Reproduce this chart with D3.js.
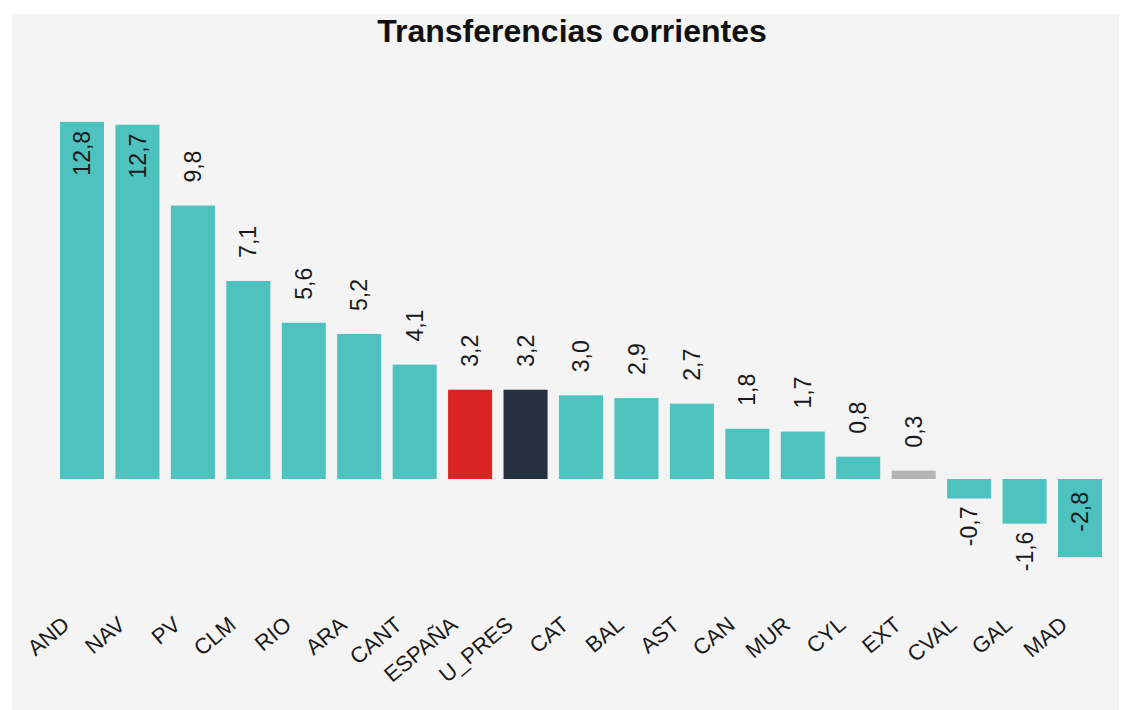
<!DOCTYPE html>
<html>
<head>
<meta charset="utf-8">
<script src="https://cdn.jsdelivr.net/npm/d3@7/dist/d3.min.js"></script>
<style>
  html, body { margin: 0; padding: 0; background: #ffffff; }
  svg { display: block; font-family: "Liberation Sans", Arial, sans-serif; }
</style>
</head>
<body>
<svg id="chart" width="1121" height="710"></svg>
<script>
// Regions, ordered by value
const categories = ["AND", "NAV", "PV", "CLM", "RIO", "ARA", "CANT", "ESPAÑA", "U_PRES",
                    "CAT", "BAL", "AST", "CAN", "MUR", "CYL", "EXT", "CVAL", "GAL", "MAD"];
const values = [12.8, 12.7, 9.8, 7.1, 5.6, 5.2, 4.1, 3.2, 3.2,
                3.0, 2.9, 2.7, 1.8, 1.7, 0.8, 0.3, -0.7, -1.6, -2.8];
// Highlighted bars: national total, budget unit and one muted region
const highlight = { "ESPAÑA": "#da2323", "U_PRES": "#253040", "EXT": "#b4b4b4" };
const baseColor = "#4ec2bf";
const title = "Transferencias corrientes";

const svg = d3.select("#chart");

// Panel background
svg.append("rect")
  .attr("x", 12).attr("y", 14)
  .attr("width", 1107).attr("height", 696)
  .attr("fill", "#f4f4f4");

const x = d3.scaleBand()
  .domain(categories)
  .range([60, 1102])
  .paddingInner(0.206)
  .paddingOuter(0);

const y = d3.scaleLinear()
  .domain([-4, 14])
  .range([590.6, 88.4]);

const data = categories.map((c, i) => ({ cat: c, val: values[i] }));
// Spanish decimal comma, plain hyphen for negatives
const fmt = v => (v < 0 ? "-" : "") + Math.abs(v).toFixed(1).replace(".", ",");

// Bars
svg.append("g").selectAll("rect")
  .data(data)
  .join("rect")
  .attr("x", d => x(d.cat))
  .attr("width", x.bandwidth())
  .attr("y", d => y(Math.max(0, d.val)))
  .attr("height", d => Math.abs(y(d.val) - y(0)))
  .attr("fill", d => highlight[d.cat] || baseColor);

// Value labels, rotated; placed inside the bar when there's no room outside
const fs = 23;
const labelLen = s => s.length * fs * 0.5;
const [plotBottom, plotTop] = y.range();
svg.append("g").selectAll("text")
  .data(data)
  .join("text")
  .each(function(d) {
    const t = d3.select(this);
    const s = fmt(d.val);
    const cx = x(d.cat) + x.bandwidth() / 2;
    let py, anchor;
    if (d.val >= 0) {
      const outsideTop = y(d.val) - 23 - labelLen(s) * 1.1;
      if (outsideTop < plotTop) { py = y(d.val) + 9; anchor = "end"; }
      else { py = y(d.val) - 23; anchor = "start"; }
    } else {
      const outsideBottom = y(d.val) + 8 + labelLen(s) * 1.1;
      if (outsideBottom > plotBottom) { py = y(0) + 13; anchor = "end"; }
      else { py = y(d.val) + 8; anchor = "end"; }
    }
    t.attr("transform", `translate(${cx},${py}) rotate(-90)`)
      .attr("text-anchor", anchor)
      .attr("dy", "0.35em")
      .attr("font-size", fs)
      .attr("fill", "#1a1a1a")
      .text(s);
  });

// Category axis labels
svg.append("g").selectAll("text")
  .data(categories)
  .join("text")
  .attr("transform", c => `translate(${x(c) + x.bandwidth() / 2 - 11},627) rotate(-40)`)
  .attr("text-anchor", "end")
  .attr("font-size", 22)
  .attr("fill", "#1a1a1a")
  .text(c => c);

// Title
svg.append("text")
  .attr("x", 572).attr("y", 42)
  .attr("text-anchor", "middle")
  .attr("font-size", 32)
  .attr("font-weight", "bold")
  .attr("fill", "#111111")
  .text(title);
</script>
</body>
</html>
